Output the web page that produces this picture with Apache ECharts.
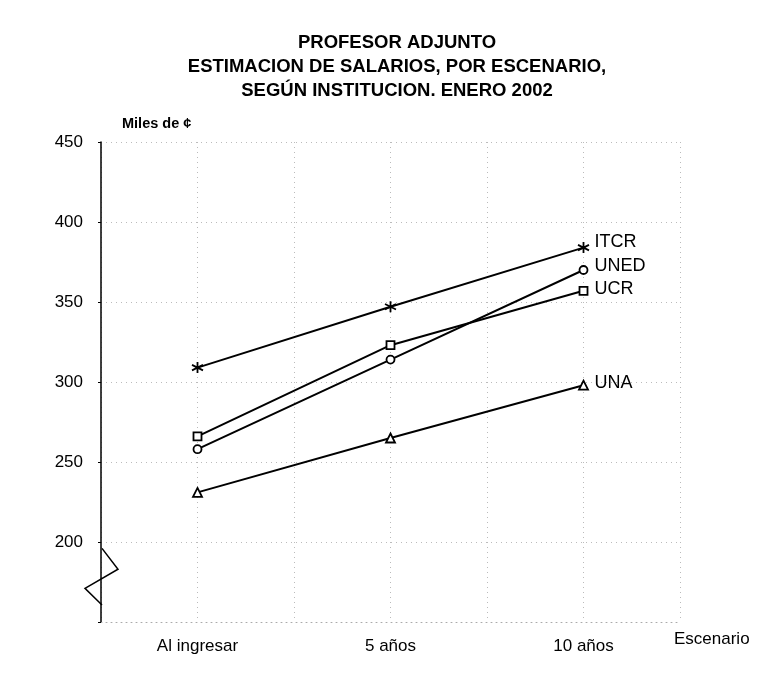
<!DOCTYPE html>
<html><head><meta charset="utf-8">
<script src="https://cdn.jsdelivr.net/npm/echarts@6/dist/echarts.min.js"></script>
<style>html,body{margin:0;padding:0;background:#fff}#c{width:760px;height:676px}</style>
</head><body><div id="c"></div>
<script>
var categories = ['Al ingresar', '5 años', '10 años'];
var itcr = [309, 347, 384];
var uned = [258, 314, 370];
var ucr  = [266, 323, 357];
var una  = [231, 265, 298];
var yTicks = [150, 200, 250, 300, 350, 400, 450];

var chart = echarts.init(document.getElementById('c'));
var F = '"Liberation Sans", Arial, sans-serif';
function pts(arr){ return arr.map(function(v,i){ return [i, v]; }); }
var asterisk = 'path://M0,-6L0,6M-5.2,-3L5.2,3M-5.2,3L5.2,-3';
function ser(name, data, symbol, size, offset){
  return {
    name: name, type: 'line', data: pts(data), symbol: symbol, symbolSize: size,
    lineStyle: {color: '#000', width: 2},
    itemStyle: {color: '#fff', borderColor: '#000', borderWidth: 1.8},
    endLabel: {show: true, formatter: '{a}', color: '#000', fontFamily: F, fontSize: 18, distance: 11, offset: offset},
    z: 3, animation: false
  };
}
var gridStyle = {color: '#bbb', type: [1, 4], width: 1};
chart.setOption({
  animation: false,
  title: [
    {text: 'PROFESOR ADJUNTO\nESTIMACION DE SALARIOS, POR ESCENARIO,\nSEGÚN INSTITUCION. ENERO 2002', left: 392, top: 26, textAlign: 'center',
     textStyle: {fontFamily: F, fontWeight: 'bold', fontSize: 18.5, lineHeight: 24, color: '#000'}},
    {text: 'Miles de ¢', left: 117, top: 111, textStyle: {fontFamily: F, fontWeight: 'bold', fontSize: 14.5, color: '#000'}},
    {text: 'Escenario', left: 669, top: 626, textStyle: {fontFamily: F, fontWeight: 'normal', fontSize: 17, color: '#000'}}
  ],
  grid: {left: 101, right: 80, top: 142, bottom: 54},
  xAxis: {
    type: 'value', min: -0.5, max: 2.5, interval: 0.5,
    axisLine: {show: true, onZero: false, lineStyle: {color: '#aaa', type: [1, 4]}},
    axisTick: {show: false},
    splitLine: {show: true, lineStyle: gridStyle},
    axisLabel: {color: '#000', fontFamily: F, fontSize: 17, margin: 16,
      formatter: function(v){ return (Math.abs(v - Math.round(v)) < 1e-6 && v >= 0 && v <= 2) ? categories[Math.round(v)] : ''; }}
  },
  yAxis: {
    type: 'value', min: yTicks[0], max: yTicks[yTicks.length-1], interval: 50,
    axisLine: {show: true, onZero: false, lineStyle: {color: '#000', width: 1.5}},
    axisTick: {show: true, length: 3, lineStyle: {color: '#000'}},
    splitLine: {show: true, lineStyle: gridStyle},
    axisLabel: {color: '#000', fontFamily: F, fontSize: 17, margin: 18,
      formatter: function(v){ return v === yTicks[0] ? '' : String(v); }}
  },
  series: [
    ser('ITCR', itcr, asterisk, 11, [0, -6]),
    ser('UNED', uned, 'circle', 8, [0, -4]),
    ser('UCR', ucr, 'rect', 8, [0, -2]),
    ser('UNA', una, 'triangle', 9, [0, -2])
  ]
});
// axis break symbol
var ax = chart.convertToPixel({gridIndex: 0}, [-0.5, 196])[0];
var bp = [196, 183, 171, 160.6].map(function(v){ return chart.convertToPixel({gridIndex: 0}, [-0.5, v])[1]; });
chart.setOption({graphic: [{type: 'polyline', shape: {points: [[ax+1, bp[0]], [ax+17, bp[1]], [ax-16, bp[2]], [ax+1, bp[3]]]},
  style: {stroke: '#000', lineWidth: 1.5, fill: null}, z: 10}]});
</script></body></html>
